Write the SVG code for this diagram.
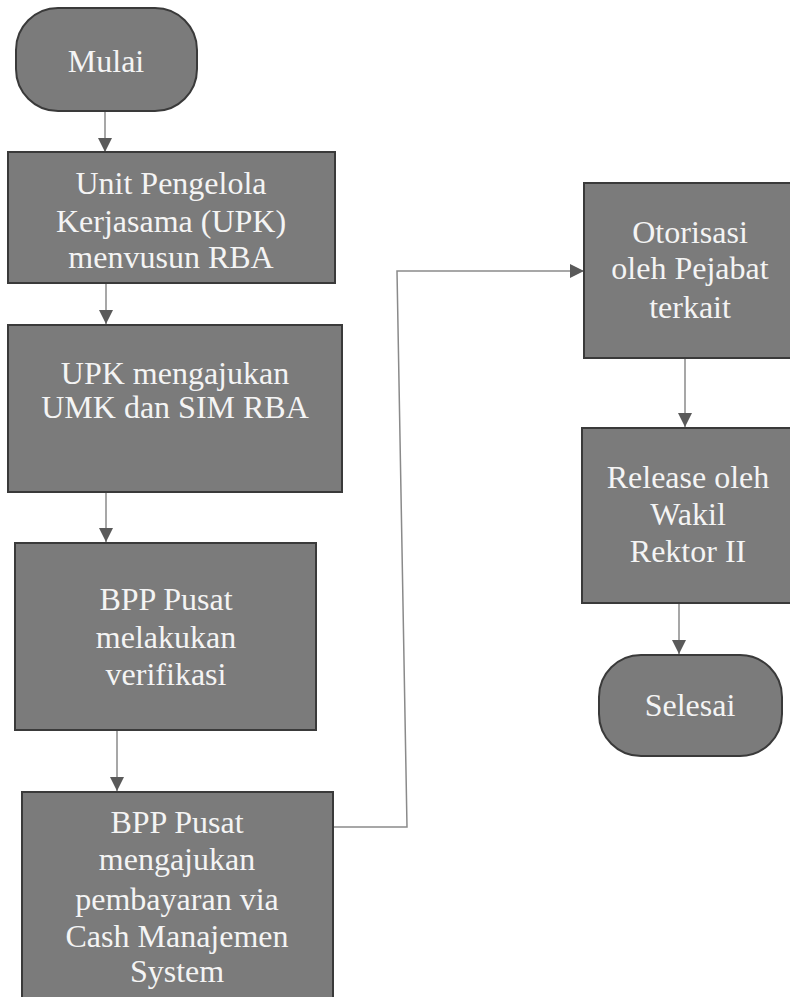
<svg xmlns="http://www.w3.org/2000/svg" width="790" height="997" viewBox="0 0 790 997">
  <style>
    .shape { fill: #7b7b7b; stroke: #3a3a3a; stroke-width: 2; }
    .label { font-family: "Liberation Serif", "Times New Roman", serif; font-size: 32px; fill: #f4f4f4; text-anchor: middle; }
    .flow { fill: none; stroke: #8a8a8a; stroke-width: 1.5; marker-end: url(#arrow); }
  </style>
  <defs>
    <marker id="arrow" markerUnits="userSpaceOnUse" markerWidth="14" markerHeight="14" viewBox="0 0 14 14" refX="14" refY="7" orient="auto">
      <path d="M0,0 L14,7 L0,14 Z" fill="#5a5a5a"/>
    </marker>
  </defs>
  <rect width="790" height="997" fill="#ffffff"/>

  <!-- connectors -->
  <g id="connectors">
    <path class="flow" d="M105,111 V152"/>
    <path class="flow" d="M106,283 V324"/>
    <path class="flow" d="M106,492 V542"/>
    <path class="flow" d="M117,730 V791"/>
    <path class="flow" d="M333,827 H407 L397,271 H584"/>
    <path class="flow" d="M685,358 V427"/>
    <path class="flow" d="M679,603 V654"/>
  </g>

  <!-- start -->
  <g id="mulai">
    <rect class="shape" x="16" y="8" width="181" height="103" rx="42" ry="42"/>
    <text class="label" x="106" y="72">Mulai</text>
  </g>

  <g id="susun-rba">
    <rect class="shape" x="8" y="152" width="327" height="131"/>
    <text class="label" x="171" y="194">Unit Pengelola</text>
    <text class="label" x="171" y="232">Kerjasama (UPK)</text>
    <text class="label" x="171" y="268">menvusun RBA</text>
  </g>

  <g id="ajukan-umk">
    <rect class="shape" x="8" y="325" width="334" height="167"/>
    <text class="label" x="175" y="384">UPK mengajukan</text>
    <text class="label" x="175" y="418">UMK dan SIM RBA</text>
  </g>

  <g id="verifikasi">
    <rect class="shape" x="15" y="543" width="301" height="187"/>
    <text class="label" x="166" y="610">BPP Pusat</text>
    <text class="label" x="166" y="648">melakukan</text>
    <text class="label" x="166" y="685">verifikasi</text>
  </g>

  <g id="pembayaran">
    <rect class="shape" x="22" y="792" width="311" height="215"/>
    <text class="label" x="177" y="833">BPP Pusat</text>
    <text class="label" x="177" y="870">mengajukan</text>
    <text class="label" x="177" y="910">pembayaran via</text>
    <text class="label" x="177" y="947">Cash Manajemen</text>
    <text class="label" x="177" y="982">System</text>
  </g>

  <g id="otorisasi">
    <rect class="shape" x="584" y="183" width="215" height="175"/>
    <text class="label" x="690" y="243">Otorisasi</text>
    <text class="label" x="690" y="279">oleh Pejabat</text>
    <text class="label" x="690" y="318">terkait</text>
  </g>

  <g id="release">
    <rect class="shape" x="582" y="428" width="217" height="175"/>
    <text class="label" x="688" y="488">Release oleh</text>
    <text class="label" x="688" y="525">Wakil</text>
    <text class="label" x="688" y="562">Rektor II</text>
  </g>

  <!-- end -->
  <g id="selesai">
    <rect class="shape" x="599" y="655" width="183" height="101" rx="42" ry="42"/>
    <text class="label" x="690" y="716">Selesai</text>
  </g>
</svg>
